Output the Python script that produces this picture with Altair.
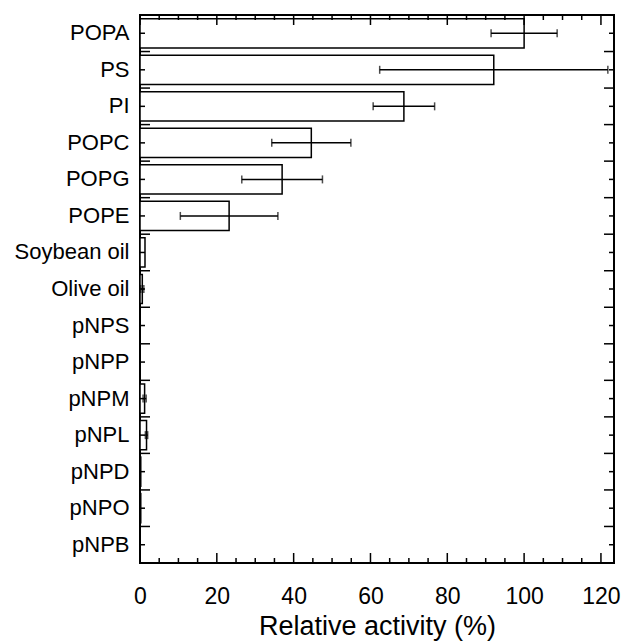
import altair as alt
import pandas as pd

categories = ["POPA", "PS", "PI", "POPC", "POPG", "POPE", "Soybean oil", "Olive oil",
              "pNPS", "pNPP", "pNPM", "pNPL", "pNPD", "pNPO", "pNPB"]
values = [100, 92.1, 68.7, 44.6, 37.0, 23.2, 1.3, 0.6, 0, 0, 1.2, 1.7, 0.2, 0.2, 0]
errors = [8.6, 29.7, 8.0, 10.3, 10.5, 12.7, 0, 0.4, 0, 0, 0.4, 0.3, 0, 0, 0]
minor_ticks = [v for v in range(0, 125, 5) if v % 20 != 0]
major_ticks = [0, 20, 40, 60, 80, 100, 120]

W, H = 474, 548
FONT = "Liberation Sans"

df = pd.DataFrame({"cat": categories, "val": values, "err": errors})
df["lo"] = df["val"] - df["err"]
df["hi"] = df["val"] + df["err"]
err_df = df[df["err"] > 0]
bound_df = df.iloc[1:]
minor_df = pd.DataFrame({"t": minor_ticks})
major_df = pd.DataFrame({"t": major_ticks})

xscale = alt.Scale(domain=[0, 123.4], nice=False, zero=True)
yscale = alt.Scale(domain=categories, paddingInner=0, paddingOuter=0)

xaxis = alt.Axis(values=major_ticks, ticks=False, domain=False, grid=False,
                 labelFlush=False, labelFont=FONT, labelFontSize=23,
                 labelColor="black", labelPadding=22,
                 title="Relative activity (%)", titleFont=FONT,
                 titleFontSize=27, titleFontWeight="normal", titleColor="black",
                 titlePadding=5)
yaxis = alt.Axis(ticks=False, domain=False, grid=False, labelFont=FONT,
                 labelFontSize=22, labelColor="black", labelPadding=11, title=None)

bars = alt.Chart(df).mark_bar(
    height={"band": 0.8}, fill="white", stroke="black", strokeWidth=1.5
).encode(
    x=alt.X("val:Q", scale=xscale, axis=xaxis),
    y=alt.Y("cat:N", scale=yscale, axis=yaxis, sort=categories),
)

err_line = alt.Chart(err_df).mark_rule(color="black", strokeWidth=1.5).encode(
    x="lo:Q", x2="hi:Q", y=alt.Y("cat:N", sort=categories)
)
cap_lo = alt.Chart(err_df).mark_tick(color="black", thickness=1.5, size=8).encode(
    x="lo:Q", y=alt.Y("cat:N", sort=categories)
)
cap_hi = alt.Chart(err_df).mark_tick(color="black", thickness=1.5, size=8).encode(
    x="hi:Q", y=alt.Y("cat:N", sort=categories)
)

# inward ticks on y (left and right), centers and boundaries
yc_left = alt.Chart(df).mark_rule(color="black", strokeWidth=1.5).encode(
    y=alt.Y("cat:N", sort=categories), x=alt.value(0), x2=alt.value(5))
yc_right = alt.Chart(df).mark_rule(color="black", strokeWidth=1.5).encode(
    y=alt.Y("cat:N", sort=categories), x=alt.value(W), x2=alt.value(W - 5))
yb_left = alt.Chart(bound_df).mark_rule(color="black", strokeWidth=1.5).encode(
    y=alt.Y("cat:N", sort=categories, bandPosition=0), x=alt.value(0), x2=alt.value(10))
yb_right = alt.Chart(bound_df).mark_rule(color="black", strokeWidth=1.5).encode(
    y=alt.Y("cat:N", sort=categories, bandPosition=0), x=alt.value(W), x2=alt.value(W - 10))

# inward ticks on x (bottom and top)
xm_bot = alt.Chart(minor_df).mark_rule(color="black", strokeWidth=1.5).encode(
    x="t:Q", y=alt.value(H), y2=alt.value(H - 5))
xm_top = alt.Chart(minor_df).mark_rule(color="black", strokeWidth=1.5).encode(
    x="t:Q", y=alt.value(0), y2=alt.value(5))
xM_bot = alt.Chart(major_df).mark_rule(color="black", strokeWidth=1.5).encode(
    x="t:Q", y=alt.value(H), y2=alt.value(H - 10))
xM_top = alt.Chart(major_df).mark_rule(color="black", strokeWidth=1.5).encode(
    x="t:Q", y=alt.value(0), y2=alt.value(10))

chart = alt.layer(
    bars, err_line, cap_lo, cap_hi,
    yc_left, yc_right, yb_left, yb_right,
    xm_bot, xm_top, xM_bot, xM_top
).properties(
    width=W, height=H,
    autosize=alt.AutoSizeParams(type="none"),
    padding={"left": 140, "top": 15, "right": 8, "bottom": 78},
    background="white",
).configure_view(stroke="black", strokeWidth=2)

chart.save("out.html", embed_options={"renderer": "svg", "actions": False})
